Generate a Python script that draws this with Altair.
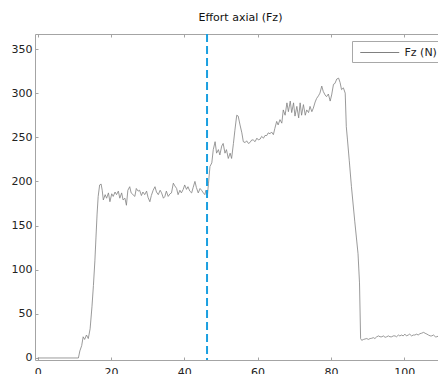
import altair as alt
import pandas as pd

# time (s)
t = [0.0, 11.1, 11.5, 12.0, 12.4, 12.8, 13.3, 13.8, 14.3, 14.8, 15.2, 15.6, 15.9, 16.2, 16.5, 16.9,
     17.3, 17.6, 17.9, 18.4, 18.8, 19.3, 19.7, 20.2, 20.6, 21.1, 21.5, 22.0, 22.4, 22.9, 23.3, 23.8,
     24.2, 24.6, 25.1, 25.5, 26.0, 26.5, 26.9, 27.4, 27.8, 28.3, 28.7, 29.2, 29.7, 30.1, 30.6, 31.0,
     31.5, 32.0, 32.4, 32.9, 33.4, 33.8, 34.3, 34.7, 35.1, 35.6, 36.1, 36.5, 37.0, 37.4, 37.9, 38.3,
     38.8, 39.2, 39.7, 40.1, 40.6, 41.0, 41.5, 42.0, 42.4, 42.9, 43.3, 43.8, 44.3, 44.7, 45.2, 45.6,
     45.9, 46.3, 46.6, 47.0, 47.5, 47.9, 48.4, 48.8, 49.3, 49.7, 50.2, 50.6, 51.1, 51.5, 52.0, 52.5,
     52.9, 53.4, 53.8, 54.3, 54.7, 55.2, 55.7, 56.1, 56.6, 57.0, 57.5, 57.9, 58.4, 58.8, 59.3, 59.8,
     60.2, 60.7, 61.1, 61.6, 62.0, 62.5, 62.9, 63.4, 63.8, 64.3, 64.7, 65.2, 65.6, 66.1, 66.6, 67.0,
     67.5, 68.0, 68.4, 68.9, 69.3, 69.8, 70.2, 70.7, 71.2, 71.6, 72.0, 72.5, 73.0, 73.4, 73.9, 74.3,
     74.8, 75.2, 75.7, 76.1, 76.6, 77.0, 77.5, 77.9, 78.4, 78.8, 79.3, 79.8, 80.2, 80.7, 81.1, 81.6,
     82.1, 82.5, 82.9, 83.4, 83.9, 84.2, 84.5, 85.0, 85.6, 86.5, 87.4, 87.8, 88.1, 88.4, 88.9, 89.3,
     89.8, 90.2, 90.7, 91.1, 91.6, 92.0, 92.5, 93.0, 93.4, 93.9, 94.3, 94.8, 95.2, 95.7, 96.1, 96.6,
     97.0, 97.5, 97.9, 98.4, 98.8, 99.3, 99.7, 100.2, 100.6, 101.1, 101.5, 102.0, 102.5, 102.9, 103.4,
     103.8, 104.3, 104.7, 105.3, 105.7, 106.2, 106.6, 107.1, 107.5, 108.0, 108.5, 108.9, 109.4, 109.8,
     110.3, 110.8, 111.4]

# axial force Fz (N)
fz = [0, 0, 8, 14, 24, 21, 26, 22, 33, 58, 82, 110, 137, 163, 183, 196,
      197, 190, 179, 185, 181, 187, 177, 186, 183, 188, 185, 189, 181, 187, 179, 181,
      173, 190, 194, 187, 185, 183, 192, 189, 190, 184, 188, 185, 189, 182, 177, 184,
      190, 194, 188, 185, 190, 187, 181, 183, 189, 183, 186, 187, 198, 195, 192, 185,
      190, 187, 191, 196, 191, 194, 189, 187, 193, 200, 193, 187, 192, 190, 187, 185,
      190, 184, 198, 217, 221, 236, 245, 232, 236, 230, 240, 243, 232, 236, 226, 232,
      226, 243, 258, 275, 274, 264, 255, 245, 244, 246, 243, 244, 247, 247, 245, 249,
      247, 248, 251, 249, 252, 252, 255, 254, 256, 253, 260, 268, 264, 270, 266, 281,
      275, 289, 279, 291, 278, 289, 274, 285, 272, 289, 275, 287, 275, 281, 278, 285,
      279, 283, 290, 294, 297, 300, 308, 302, 298, 296, 299, 291, 298, 310, 311, 316,
      317, 312, 304, 306, 300, 262, 248, 224, 194, 155, 118, 85, 22, 20, 21, 21.5,
      22, 21, 22, 22.3, 23, 22, 24, 25, 24, 24, 25, 23.4, 24, 25, 24, 24,
      25, 25, 24, 26, 25, 26, 25, 27, 25, 26, 27, 25, 26, 26, 27,
      26, 27.5, 28, 29, 28, 27, 26, 25, 25, 26, 24, 24, 25, 23,
      25, 24, 24]

series = ["Fz (N)"]
marker_t = [46.2]
x_ticks = [0, 20, 40, 60, 80, 100]
y_ticks = [0, 50, 100, 150, 200, 250, 300, 350]

df = pd.DataFrame({"t": t, "fz": fz})
df["serie"] = series[0]
mk = pd.DataFrame({"t": marker_t})

FONT = "DejaVu Sans"
AX = "#a4a4a4"
xs = alt.Scale(domain=[-0.74, 111.4], nice=False, zero=False)
ys = alt.Scale(domain=[-2.3, 367], nice=False, zero=False)

def ax(orient, values, labels=True, pad=3):
    return alt.Axis(orient=orient, values=values, labels=labels, title=None, domain=False,
                    grid=False, ticks=True, tickSize=3, offset=-3, tickColor=AX, tickWidth=1,
                    labelFont=FONT, labelFontSize=11, labelColor="#222222", labelPadding=pad,
                    labelFlush=False, labelOverlap=False)

line = alt.Chart(df).mark_line(strokeWidth=0.8).encode(
    x=alt.X("t:Q", scale=xs, axis=ax("bottom", x_ticks, pad=6)),
    y=alt.Y("fz:Q", scale=ys, axis=ax("left", y_ticks, pad=3)),
    color=alt.Color("serie:N", scale=alt.Scale(domain=series, range=["#808080"]),
                    legend=alt.Legend(title=None, orient="none", legendX=317, legendY=7,
                                      symbolType="M-0.5,0H5.5", symbolSize=169,
                                      symbolStrokeWidth=1, symbolFillColor="transparent",
                                      labelFont=FONT, labelFontSize=11, labelColor="#222222",
                                      labelOffset=34, padding=4.5, strokeColor="#a8a8a8",
                                      fillColor="white", cornerRadius=0)),
)

rule = alt.Chart(mk).mark_rule(color="#1a9fe0", strokeDash=[8, 4], strokeWidth=2).encode(
    x=alt.X("t:Q", scale=xs, axis=ax("top", x_ticks, labels=False)),
)

right = alt.Chart(df).mark_line(opacity=0).encode(
    x=alt.X("t:Q", scale=xs, axis=None),
    y=alt.Y("fz:Q", scale=ys, axis=ax("right", y_ticks, labels=False)),
)

chart = alt.layer(line, rule, right).resolve_axis(x="independent", y="independent").properties(
    width=411, height=326,
    title=alt.TitleParams("Effort axial (Fz)", font=FONT, fontSize=11, fontWeight="normal",
                          color="#111111", anchor="middle", baseline="alphabetic", offset=1),
    autosize=alt.AutoSizeParams(type="none"),
    padding={"left": 27, "top": 26, "right": -8, "bottom": 14},
).configure_view(stroke=AX, strokeWidth=1)

chart.save("out.html", embed_options={"renderer": "svg", "actions": False})
